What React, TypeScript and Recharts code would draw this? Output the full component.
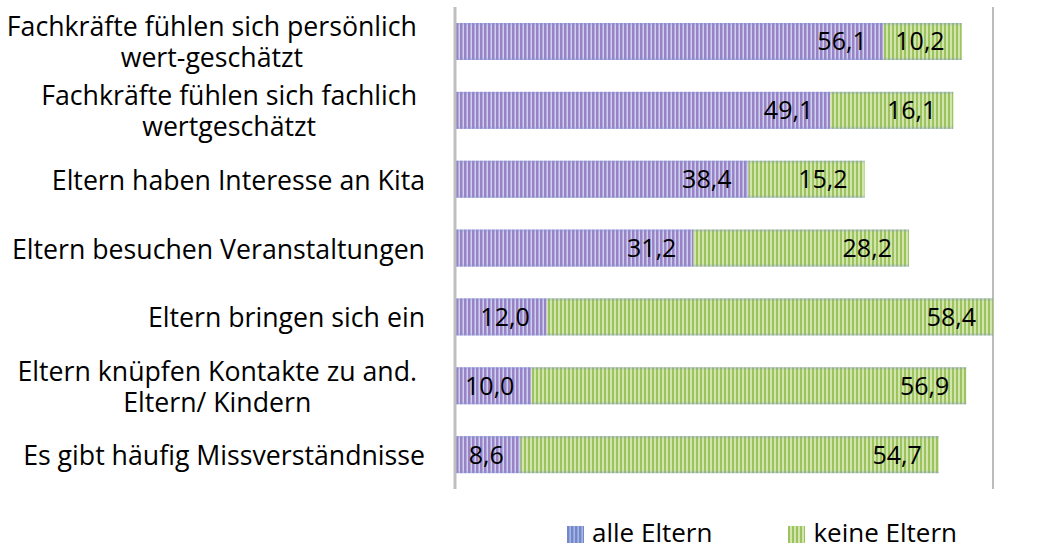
import { BarChart, Bar, XAxis, YAxis, CartesianGrid, LabelList, ReferenceLine } from 'recharts'

const categories = [
  'Fachkräfte fühlen sich persönlich\nwert-geschätzt',
  'Fachkräfte fühlen sich fachlich\nwertgeschätzt',
  'Eltern haben Interesse an Kita',
  'Eltern besuchen Veranstaltungen',
  'Eltern bringen sich ein',
  'Eltern knüpfen Kontakte zu and.\nEltern/ Kindern',
  'Es gibt häufig Missverständnisse',
]
const alleEltern = [56.1, 49.1, 38.4, 31.2, 12.0, 10.0, 8.6]
const keineEltern = [10.2, 16.1, 15.2, 28.2, 58.4, 56.9, 54.7]
const xTicks = [0, 10, 20, 30, 40, 50, 60, 70]

const data = categories.map((name, i) => ({ name, alle: alleEltern[i], keine: keineEltern[i] }))

const FONT = '"Open Sans", Lato, sans-serif'

const fmt = (v: any) => Number(v).toFixed(1).replace('.', ',')

function CategoryTick(props: any) {
  const { y, payload } = props
  const text = String(payload.value)
  // wrapped labels sit a bit further from the axis, like in the original
  const right = text.includes('\n') ? 8 : 0
  return (
    <foreignObject x={0} y={y - 36} width={425} height={72}>
      <div
        style={{
          width: 425 - right,
          height: 72,
          display: 'flex',
          alignItems: 'center',
          justifyContent: 'flex-end',
          fontFamily: FONT,
          fontSize: 26.7,
          color: '#000',
        }}
      >
        <div style={{ textAlign: 'center', lineHeight: '31px', whiteSpace: 'pre' }}>{text}</div>
      </div>
    </foreignObject>
  )
}

function PatternBar(props: any) {
  const { x, y, width, height, pattern } = props
  if (!width || width <= 0) return null
  return (
    <g>
      <rect x={x} y={y} width={width} height={height} fill={`url(#${pattern})`} />
      <rect x={x} y={y} width={width} height={height} fill="url(#edgeShade)" />
    </g>
  )
}

function LegendBox() {
  const items = [
    { label: 'alle Eltern', pattern: 'legendBlue', gap: 76 },
    { label: 'keine Eltern', pattern: 'greenStripes', gap: 0 },
  ]
  return (
    <div
      style={{
        position: 'absolute',
        left: 567,
        top: 517,
        display: 'flex',
        fontFamily: FONT,
        fontSize: 26,
        lineHeight: '30px',
        color: '#000',
      }}
    >
      {items.map((it) => (
        <div key={it.label} style={{ display: 'flex', alignItems: 'center', marginRight: it.gap }}>
          <svg width={17} height={17} style={{ marginRight: 8, marginTop: 4 }}>
            <rect width={17} height={17} fill={`url(#${it.pattern})`} />
          </svg>
          <span>{it.label}</span>
        </div>
      ))}
    </div>
  )
}

export default function App() {
  return (
    <div style={{ position: 'absolute', left: 0, top: 0, width: 1061, height: 549, background: '#fff' }}>
      <BarChart
        width={1061}
        height={549}
        data={data}
        layout="vertical"
        barSize={37}
        margin={{ top: 7, right: 68, left: 0, bottom: 60 }}
      >
        <defs>
          <pattern id="purpleStripes" patternUnits="userSpaceOnUse" width={4} height={4}>
            <rect width={4} height={4} fill="#d6cdea" />
            <rect width={2} height={4} fill="#9a82c6" />
            <rect x={2} width={0.6} height={4} fill="#8e9bd6" />
          </pattern>
          <pattern id="legendBlue" patternUnits="userSpaceOnUse" width={4} height={4}>
            <rect width={4} height={4} fill="#a9b6e2" />
            <rect width={2.4} height={4} fill="#7189cc" />
          </pattern>
          <pattern id="greenStripes" patternUnits="userSpaceOnUse" width={4} height={4}>
            <rect width={4} height={4} fill="#d2e5ac" />
            <rect width={2} height={4} fill="#9cc35e" />
          </pattern>
          <linearGradient id="edgeShade" x1="0" y1="0" x2="0" y2="1">
            <stop offset="0" stopColor="#7f94d8" stopOpacity={0.45} />
            <stop offset="0.08" stopColor="#7f94d8" stopOpacity={0} />
            <stop offset="0.92" stopColor="#7f94d8" stopOpacity={0} />
            <stop offset="1" stopColor="#7f94d8" stopOpacity={0.45} />
          </linearGradient>
        </defs>
        <CartesianGrid horizontal={false} stroke="#a6a6a6" strokeWidth={1.5} />
        <XAxis
          type="number"
          domain={[0, 70.4]}
          ticks={xTicks}
          tick={false}
          axisLine={false}
          tickLine={false}
          height={0}
        />
        <YAxis
          type="category"
          dataKey="name"
          width={455}
          axisLine={false}
          tickLine={false}
          tick={<CategoryTick />}
          interval={0}
        />
        <ReferenceLine x={0} stroke="#bfbfbf" strokeWidth={3} />
        <Bar
          dataKey="alle"
          stackId="a"
          isAnimationActive={false}
          shape={<PatternBar pattern="purpleStripes" />}
        >
          <LabelList
            dataKey="alle"
            position="insideRight"
            offset={17}
            formatter={fmt}
            style={{ fontFamily: FONT, fontSize: 25, fill: '#000' }}
          />
        </Bar>
        <Bar
          dataKey="keine"
          stackId="a"
          isAnimationActive={false}
          shape={<PatternBar pattern="greenStripes" />}
        >
          <LabelList
            dataKey="keine"
            position="insideRight"
            offset={17}
            formatter={fmt}
            style={{ fontFamily: FONT, fontSize: 25, fill: '#000' }}
          />
        </Bar>
      </BarChart>
      <LegendBox />
    </div>
  )
}
